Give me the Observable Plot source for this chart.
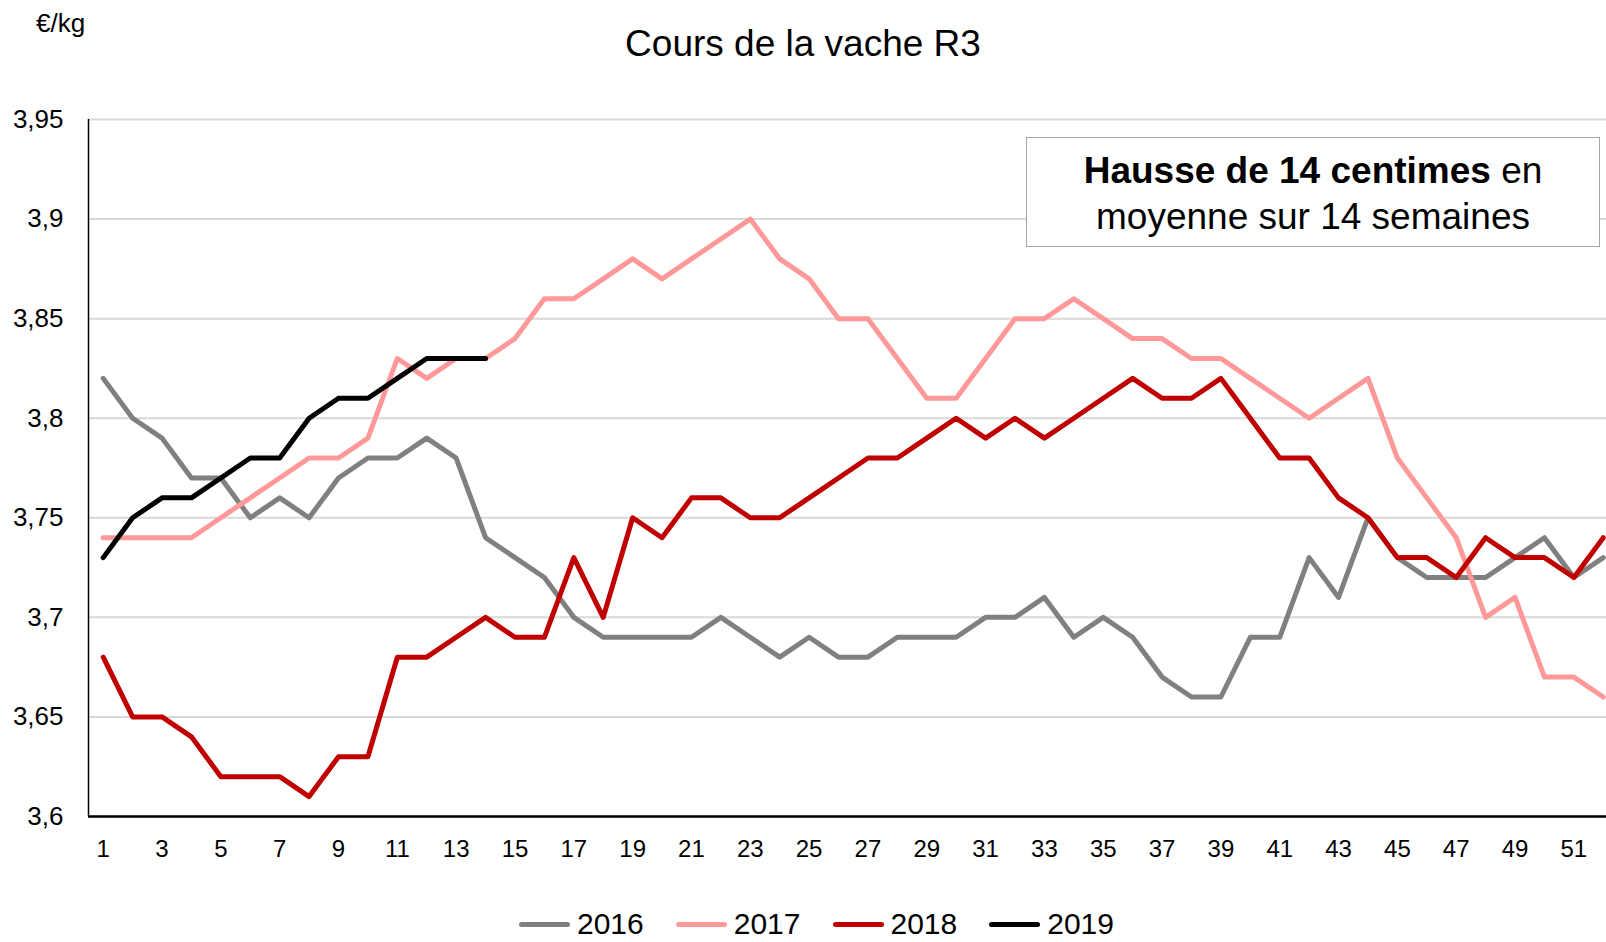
<!DOCTYPE html>
<html>
<head>
<meta charset="utf-8">
<script src="https://cdn.jsdelivr.net/npm/d3@7"></script>
<script src="https://cdn.jsdelivr.net/npm/@observablehq/plot@0.6"></script>
<style>
  html, body { margin: 0; padding: 0; background: #fff; }
  #wrap { position: relative; width: 1606px; height: 942px; overflow: hidden; font-family: "Liberation Sans", Arial, sans-serif; color: #000; }
  #unit { position: absolute; left: 36px; top: 10px; font-size: 26px; line-height: 1; }
  #title { position: absolute; left: 0; top: 25px; width: 1606px; text-align: center; font-size: 37px; line-height: 1; }
  #chart { position: absolute; left: 0; top: 90px; }
  #box { position: absolute; left: 1026px; top: 137px; width: 574px; height: 110px; box-sizing: border-box; border: 1.5px solid #a6a6a6; background: #fff; }
  #boxtext { position: absolute; left: 1026px; top: 148px; width: 574px; text-align: center; font-size: 37px; line-height: 45.5px; }
  #legend { position: absolute; left: 519px; top: 907px; display: flex; align-items: center; font-size: 30px; line-height: 34px; }
  .item { display: flex; align-items: center; margin-right: 32px; }
  .sw { display: inline-block; width: 51px; height: 5px; border-radius: 3px; margin-right: 7px; }
</style>
</head>
<body>
<div id="wrap">
  <div id="unit">€/kg</div>
  <div id="title">Cours de la vache R3</div>
  <div id="chart"></div>
  <div id="box"></div>
  <div id="boxtext"><b>Hausse de 14 centimes</b> en<br>moyenne sur 14 semaines</div>
  <div id="legend"></div>
</div>
<script>
// ---- data ----
const weeks = [1,2,3,4,5,6,7,8,9,10,11,12,13,14,15,16,17,18,19,20,21,22,23,24,25,26,
               27,28,29,30,31,32,33,34,35,36,37,38,39,40,41,42,43,44,45,46,47,48,49,50,51,52];
const years = ["2016", "2017", "2018", "2019"];
const colors = ["#808080", "#ff9999", "#c00000", "#000000"];

const v2016 = [3.82,3.80,3.79,3.77,3.77,3.75,3.76,3.75,3.77,3.78,
               3.78,3.79,3.78,3.74,3.73,3.72,3.70,3.69,3.69,3.69,
               3.69,3.70,3.69,3.68,3.69,3.68,3.68,3.69,3.69,3.69,
               3.70,3.70,3.71,3.69,3.70,3.69,3.67,3.66,3.66,3.69,
               3.69,3.73,3.71,3.75,3.73,3.72,3.72,3.72,3.73,3.74,3.72,3.73];
const v2017 = [3.74,3.74,3.74,3.74,3.75,3.76,3.77,3.78,3.78,3.79,
               3.83,3.82,3.83,3.83,3.84,3.86,3.86,3.87,3.88,3.87,
               3.88,3.89,3.90,3.88,3.87,3.85,3.85,3.83,3.81,3.81,
               3.83,3.85,3.85,3.86,3.85,3.84,3.84,3.83,3.83,3.82,
               3.81,3.80,3.81,3.82,3.78,3.76,3.74,3.70,3.71,3.67,3.67,3.66];
const v2018 = [3.68,3.65,3.65,3.64,3.62,3.62,3.62,3.61,3.63,3.63,
               3.68,3.68,3.69,3.70,3.69,3.69,3.73,3.70,3.75,3.74,
               3.76,3.76,3.75,3.75,3.76,3.77,3.78,3.78,3.79,3.80,
               3.79,3.80,3.79,3.80,3.81,3.82,3.81,3.81,3.82,3.80,
               3.78,3.78,3.76,3.75,3.73,3.73,3.72,3.74,3.73,3.73,3.72,3.74];
const v2019 = [3.73,3.75,3.76,3.76,3.77,3.78,3.78,3.80,3.81,3.81,3.82,3.83,3.83,3.83];

const xTicks = [1,3,5,7,9,11,13,15,17,19,21,23,25,27,29,31,33,35,37,39,41,43,45,47,49,51];
const yTicks = [3.6, 3.65, 3.7, 3.75, 3.8, 3.85, 3.9, 3.95];
const yTickLabels = ["3,6", "3,65", "3,7", "3,75", "3,8", "3,85", "3,9", "3,95"];

// ---- build table ----
const seriesValues = [v2016, v2017, v2018, v2019];
const rows = [];
years.forEach((yr, k) => {
  seriesValues[k].forEach((v, i) => rows.push({week: weeks[i], value: v, year: yr}));
});

const chart = Plot.plot({
  width: 1606,
  height: 776,
  marginLeft: 88,
  marginRight: 0,
  marginTop: 29,
  marginBottom: 50,
  style: {fontFamily: "'Liberation Sans', Arial, sans-serif", fontSize: "24px", color: "#000", background: "transparent", overflow: "visible"},
  x: {type: "linear", domain: [0.5, 52.11]},
  y: {type: "linear", domain: [3.6, 3.95]},
  color: {domain: years, range: colors},
  marks: [
    Plot.gridY(yTicks, {stroke: "#d9d9d9", strokeOpacity: 1, strokeWidth: 2}),
    Plot.axisY(yTicks, {
      tickSize: 0, tickPadding: 25, label: null, fontSize: 26,
      tickFormat: d => yTickLabels[yTicks.findIndex(t => Math.abs(t - d) < 1e-9)]
    }),
    Plot.axisX(xTicks, {tickSize: 0, tickPadding: 23, label: null, fontSize: 24, tickFormat: d => String(d)}),
    Plot.ruleX([0.5], {stroke: "#000", strokeWidth: 1.5}),
    Plot.ruleY([3.6], {stroke: "#000", strokeWidth: 2.5}),
    Plot.line(rows, {x: "week", y: "value", z: "year", stroke: "year", strokeWidth: 5,
                     strokeLinejoin: "round", strokeLinecap: "round"})
  ]
});
document.getElementById("chart").appendChild(chart);

// ---- legend ----
const legend = document.getElementById("legend");
years.forEach((yr, k) => {
  const it = document.createElement("div");
  it.className = "item";
  const sw = document.createElement("span");
  sw.className = "sw";
  sw.style.background = colors[k];
  const tx = document.createElement("span");
  tx.textContent = yr;
  it.appendChild(sw);
  it.appendChild(tx);
  legend.appendChild(it);
});
</script>
</body>
</html>
